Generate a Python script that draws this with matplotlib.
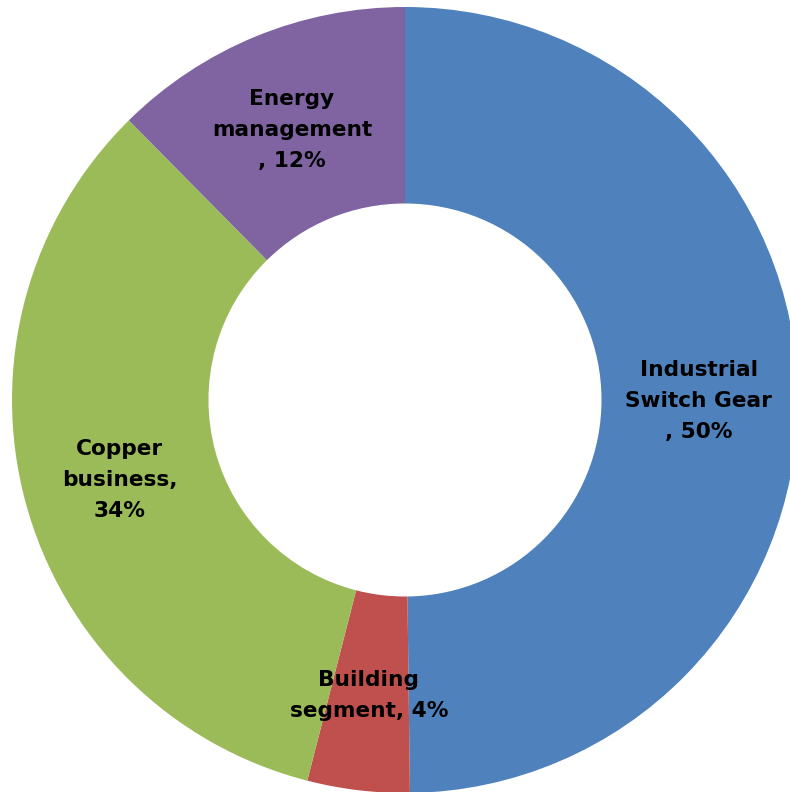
import matplotlib
matplotlib.use("Agg")
import matplotlib.pyplot as plt
from matplotlib.transforms import offset_copy

categories = ["Industrial\nSwitch Gear\n, 50%", "Building\nsegment, 4%", "Copper\nbusiness,\n34%", "Energy\nmanagement\n, 12%"]
values = [49.8, 4.2, 33.6, 12.4]
colors = ["#4F81BD", "#C0504D", "#9BBB59", "#8064A2"]

fig = plt.figure(figsize=(7.9, 7.92), dpi=100)
R = 393
cx, cy = 405, 792 - 400
ax = fig.add_axes([(cx - R) / 790, (cy - R) / 792, 2 * R / 790, 2 * R / 792])
wedges, texts = ax.pie(values, labels=categories, colors=colors, startangle=90,
                       counterclock=False, labeldistance=0.75,
                       wedgeprops=dict(width=0.5, linewidth=0),
                       textprops=dict(fontsize=15.6, fontweight="bold", color="black",
                                      linespacing=1.68, family="DejaVu Sans"))
for t in texts:
    t.set_ha("center")
    t.set_va("center")
    t.set_transform(offset_copy(t.get_transform(), fig=fig, x=-1, y=-3, units="dots"))
ax.set_xlim(-1, 1)
ax.set_ylim(-1, 1)
ax.set_aspect("equal")
ax.axis("off")
fig.savefig("out.png", dpi=100)
